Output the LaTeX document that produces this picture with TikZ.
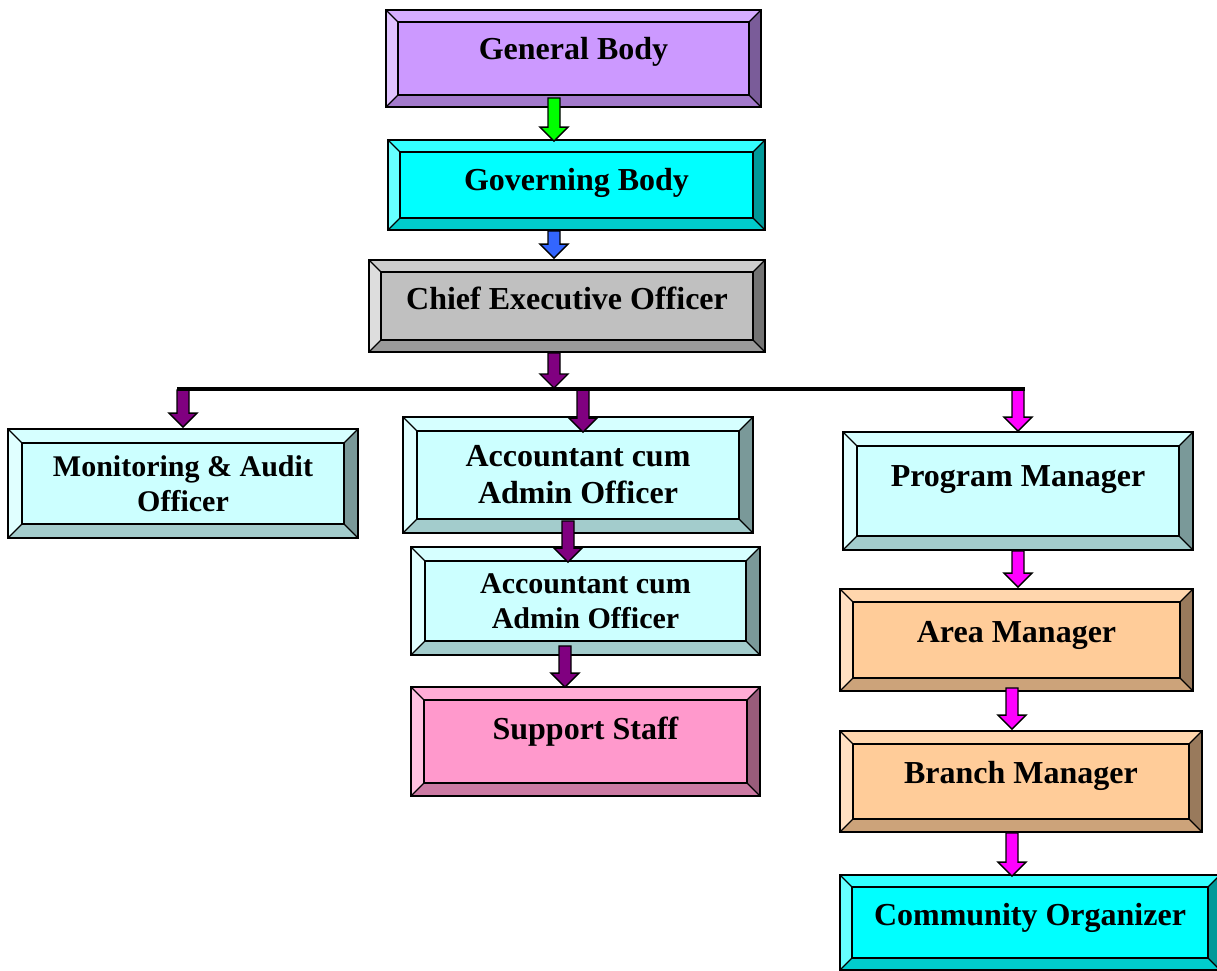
\documentclass[tikz,border=0pt]{standalone}
\usepackage{fontspec}
\setmainfont{Liberation Serif}
\usetikzlibrary{calc}
\definecolor{purp}{HTML}{CC99FF}\definecolor{purpT}{HTML}{D6ADFF}\definecolor{purpL}{HTML}{E0C2FF}\definecolor{purpR}{HTML}{7A5C99}\definecolor{purpB}{HTML}{A37ACC}
\definecolor{cyan}{HTML}{00FFFF}\definecolor{cyanT}{HTML}{33FFFF}\definecolor{cyanL}{HTML}{66FFFF}\definecolor{cyanR}{HTML}{009999}\definecolor{cyanB}{HTML}{00CCCC}
\definecolor{grey}{HTML}{C0C0C0}\definecolor{greyT}{HTML}{CDCDCD}\definecolor{greyL}{HTML}{DDDDDD}\definecolor{greyR}{HTML}{737373}\definecolor{greyB}{HTML}{9A9A9A}
\definecolor{lcyan}{HTML}{CCFFFF}\definecolor{lcyanT}{HTML}{D6FFFF}\definecolor{lcyanL}{HTML}{E0FFFF}\definecolor{lcyanR}{HTML}{7A9999}\definecolor{lcyanB}{HTML}{A3CCCC}
\definecolor{pink}{HTML}{FF99CC}\definecolor{pinkT}{HTML}{FFADD6}\definecolor{pinkL}{HTML}{FFC2E0}\definecolor{pinkR}{HTML}{995C7A}\definecolor{pinkB}{HTML}{CC7AA3}
\definecolor{peach}{HTML}{FFCC99}\definecolor{peachT}{HTML}{FFD6AD}\definecolor{peachL}{HTML}{FFE0C2}\definecolor{peachR}{HTML}{997A5C}\definecolor{peachB}{HTML}{CCA37A}
\definecolor{arrG}{HTML}{00FF00}\definecolor{arrB}{HTML}{3366FF}\definecolor{arrP}{HTML}{800080}\definecolor{arrM}{HTML}{FF00FF}

\begin{document}
\begin{tikzpicture}[x=1pt, y=-1pt,
    bevw/.store in=\bevw, bevw=12pt,
    big/.style={font=\bfseries\fontsize{32}{37}\selectfont},
    small/.style={font=\bfseries\fontsize{30}{35}\selectfont},
    lift/.style={text height=#1, text depth=10pt},
    bevel/.style={draw, line width=1.8pt, fill=#1, align=center, inner sep=0pt,
        path picture={
            \coordinate (sw) at (path picture bounding box.south west);
            \coordinate (ne) at (path picture bounding box.north east);
            \coordinate (nw) at (sw |- ne);
            \coordinate (se) at (ne |- sw);
            \coordinate (isw) at ([xshift=\bevw,yshift=\bevw]sw);
            \coordinate (ine) at ([xshift=-\bevw,yshift=-\bevw]ne);
            \coordinate (inw) at ([xshift=\bevw,yshift=-\bevw]nw);
            \coordinate (ise) at ([xshift=-\bevw,yshift=\bevw]se);
            \fill[#1T] (nw) -- (ne) -- (ine) -- (inw) -- cycle;
            \fill[#1R] (ne) -- (se) -- (ise) -- (ine) -- cycle;
            \fill[#1B] (se) -- (sw) -- (isw) -- (ise) -- cycle;
            \fill[#1L] (sw) -- (nw) -- (inw) -- (isw) -- cycle;
            \draw[line width=1.6pt] (inw) rectangle (ise);
            \draw[line width=1.2pt] (nw) -- (inw) (ne) -- (ine) (se) -- (ise) (sw) -- (isw);
        }},
    barrow/.style={fill=#1, draw=black, line width=1.3pt, to path={
        let \p1=(\tikztostart), \p2=(\tikztotarget) in
        (\x1-6pt,\y1) -- (\x1-6pt,\y2+14pt) -- (\x1-14pt,\y2+14pt) -- (\x1,\y2)
        -- (\x1+14pt,\y2+14pt) -- (\x1+6pt,\y2+14pt) -- (\x1+6pt,\y1) -- cycle}}]

    \useasboundingbox (0,0) rectangle (1217,970);
    \clip (0,0) rectangle (1217,970);

    \node[bevel=purp, big, lift=12pt, minimum width=375pt, minimum height=97pt] (gen) at (573.5,58.5) {General Body};
    \node[bevel=cyan, big, lift=21pt, minimum width=377pt, minimum height=90pt] (gov) at (576.5,185) {Governing Body};
    \node[bevel=grey, big, lift=17pt, minimum width=396pt, minimum height=92pt] (ceo) at (567,306) {Chief Executive Officer};
    \node[bevel=lcyan, small, bevw=14pt, minimum width=350pt, minimum height=109pt] (mon) at (183,483.5) {Monitoring \& Audit\\Officer};
    \node[bevel=lcyan, big, bevw=14pt, minimum width=350pt, minimum height=116pt] (acc) at (578,475) {Accountant cum\\Admin Officer};
    \node[bevel=lcyan, small, bevw=14pt, minimum width=349pt, minimum height=108pt] (accb) at (585.5,601) {Accountant cum\\Admin Officer};
    \node[bevel=pink, big, lift=5pt, bevw=13pt, minimum width=349pt, minimum height=109pt] (sup) at (585.5,741.5) {Support Staff};
    \node[bevel=lcyan, big, lift=1pt, bevw=14pt, minimum width=350pt, minimum height=118pt] (pm) at (1018,491) {Program Manager};
    \node[bevel=peach, big, lift=15pt, bevw=13pt, minimum width=353pt, minimum height=102pt] (area) at (1016.5,640) {Area Manager};
    \node[bevel=peach, big, lift=13pt, bevw=13pt, minimum width=362pt, minimum height=101pt] (br) at (1021,781.5) {Branch Manager};
    \node[bevel=cyan, big, lift=16pt, minimum width=380pt, minimum height=95pt] (co) at (1030,922.5) {Community Organizer};

    \coordinate (railL) at (177,389);
    \coordinate (railR) at (1025,389);
    \coordinate (tapC) at (554,388);
    \coordinate (tapM) at (183,390);
    \coordinate (tapA) at (583,390);
    \coordinate (tapP) at (1018,390);

    \draw[barrow=arrG] ([xshift=-19.5pt,yshift=10pt]gen.south) to ([yshift=-2pt]gov.north);
    \draw[barrow=arrB] ([xshift=-22.5pt]gov.south) to ([yshift=1pt]ceo.north);
    \draw[barrow=arrP] ([xshift=-13pt]ceo.south) to (tapC);
    \draw[barrow=arrP] (tapM) to ([yshift=1pt]mon.north);
    \draw[barrow=arrP] (tapA) to ([yshift=-16pt]acc.north);
    \draw[barrow=arrM] (tapP) to (pm.north);
    \draw[line width=3.5pt] (railL) -- (railR);
    \draw[barrow=arrP] ([xshift=-10pt,yshift=13pt]acc.south) to ([yshift=-16pt]accb.north);
    \draw[barrow=arrP] ([xshift=-20.5pt,yshift=10pt]accb.south) to ([yshift=-1pt]sup.north);
    \draw[barrow=arrM] (pm.south) to ([yshift=1pt]area.north);
    \draw[barrow=arrM] ([xshift=-4.5pt,yshift=4pt]area.south) to ([yshift=1pt]br.north);
    \draw[barrow=arrM] ([xshift=-9pt]br.south) to ([yshift=-2pt]co.north);
\end{tikzpicture}
\end{document}
